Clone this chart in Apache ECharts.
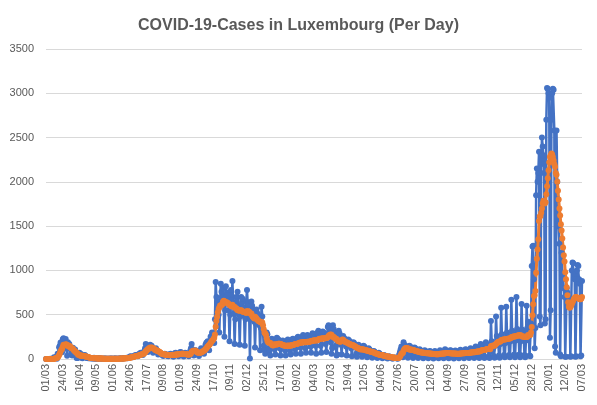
<!DOCTYPE html>
<html>
<head>
<meta charset="utf-8">
<script src="https://cdn.jsdelivr.net/npm/echarts@6/dist/echarts.min.js"></script>
<style>
  html, body { margin: 0; padding: 0; background: #fff; }
  #chart { width: 597px; height: 405px; }
</style>
</head>
<body>
<div id="chart"></div>
<script>
// first reported day and number of days shown
const startDate = [2020, 3, 1];
const dayCount = 737;

// daily new cases, one row per week (Sun..Sat)
const dailyCases = [
  0,0,1,0,1,0,2,
  1,0,2,3,19,12,13,
  26,4,59,63,132,149,186,
  128,77,224,234,120,152,226,
  119,38,190,141,168,125,117,
  75,39,127,64,81,108,47,
  11,11,15,66,71,36,57,
  13,8,20,36,46,40,16,
  12,12,8,11,15,7,10,
  8,7,6,13,6,4,10,
  4,5,7,10,3,5,4,
  2,4,3,5,3,6,2,
  3,4,2,3,5,3,7,
  2,1,5,3,7,6,4,
  2,3,5,4,8,6,5,
  4,7,10,12,8,11,14,
  9,14,18,25,30,22,28,
  20,25,33,40,46,35,41,
  30,42,60,55,71,62,58,
  45,65,90,120,170,105,140,
  80,110,145,160,130,150,120,
  70,90,110,95,120,100,80,
  50,60,70,55,65,50,45,
  35,50,60,45,55,40,38,
  30,45,55,60,50,48,40,
  25,50,65,70,60,55,42,
  30,60,75,80,65,55,50,
  28,50,70,65,60,50,45,
  30,60,90,120,170,110,80,
  40,70,100,95,85,70,60,
  35,70,100,120,110,105,90,
  60,120,160,180,190,200,150,
  100,190,250,260,300,250,240,
  180,450,870,700,650,600,500,
  300,600,850,760,700,800,600,
  250,550,820,700,750,720,550,
  200,500,780,660,880,600,520,
  170,450,700,650,760,600,500,
  160,480,700,620,680,580,500,
  150,450,650,780,620,600,480,
  5,450,650,600,560,520,420,
  130,400,560,520,500,480,380,
  100,350,590,480,300,150,100,
  60,250,300,280,200,120,90,
  40,200,230,220,180,190,110,
  50,180,240,230,220,180,120,
  40,160,200,210,190,170,100,
  40,150,200,220,200,160,90,
  50,180,220,230,210,190,110,
  60,190,240,250,230,210,130,
  60,180,250,270,240,200,120,
  70,200,270,260,230,220,140,
  70,230,290,280,240,220,150,
  60,240,300,320,280,250,150,
  70,250,310,300,290,260,170,
  80,280,360,380,350,300,190,
  60,120,380,340,300,260,150,
  40,50,280,320,290,250,160,
  50,200,260,240,230,200,140,
  40,170,220,210,200,170,120,
  30,150,190,180,160,140,60,
  25,120,160,150,130,110,70,
  25,110,150,140,120,90,50,
  20,90,120,110,100,80,40,
  15,60,90,85,70,60,30,
  10,40,70,60,55,45,20,
  8,30,45,40,35,30,15,
  5,20,30,25,22,18,10,
  3,12,18,15,14,12,6,
  3,15,50,80,110,140,60,
  20,190,160,150,140,130,60,
  15,120,150,140,130,120,50,
  10,100,130,120,110,90,40,
  10,80,110,100,90,80,35,
  8,70,100,90,80,70,30,
  8,60,90,85,75,60,25,
  5,50,90,80,70,60,25,
  8,60,100,90,80,65,25,
  8,70,110,100,85,70,30,
  8,60,100,95,80,65,25,
  7,55,95,90,75,60,25,
  8,60,105,95,85,70,30,
  8,65,110,105,90,75,30,
  10,70,120,110,100,80,35,
  10,80,140,130,110,90,35,
  12,100,170,150,130,110,40,
  12,110,190,170,150,120,35,
  10,80,430,200,160,140,35,
  15,150,480,260,220,190,40,
  15,170,580,280,240,210,45,
  20,180,590,300,260,220,45,
  20,200,670,320,280,240,50,
  20,210,700,340,300,260,50,
  20,200,620,330,290,250,45,
  20,210,600,350,420,250,40,
  30,400,1050,1270,1280,900,120,
  350,1850,2150,2000,2100,2340,480,
  380,2100,2500,2400,2300,2200,400,
  450,2700,3060,3050,3000,2950,240,
  550,2700,3000,3050,3040,2580,140,
  70,2580,2000,1800,1500,1300,50,
  30,1200,950,900,800,700,25,
  25,800,750,700,650,600,25,
  30,1000,1090,1080,950,900,25,
  30,1000,1060,1050,900,850,30,
  40,880
];

// 7 day average, same layout
const sevenDayAvg = [
  0,0,0,0,0,0,1,
  1,1,1,1,4,5,7,
  11,11,19,28,44,63,88,
  103,113,136,160,158,158,166,
  165,159,154,141,148,144,128,
  122,122,113,102,90,88,77,
  68,64,48,48,47,37,38,
  38,37,38,34,30,31,25,
  25,25,23,20,15,11,11,
  10,10,9,9,8,8,8,
  7,7,7,7,6,6,5,
  5,5,4,4,4,4,4,
  4,4,4,3,4,4,4,
  4,4,4,4,4,4,4,
  4,4,4,4,5,5,5,
  5,5,6,7,8,9,9,
  10,11,12,14,17,18,21,
  22,24,26,28,31,33,34,
  36,38,42,44,47,50,54,
  56,60,64,73,87,93,105,
  110,116,124,130,124,130,128,
  120,117,112,102,100,93,95,
  88,84,78,72,64,60,56,
  55,53,51,50,49,48,46,
  45,44,43,45,44,45,47,
  46,46,48,50,51,52,52,
  53,54,56,57,58,58,59,
  58,57,56,54,53,52,51,
  51,52,55,63,79,87,92,
  93,94,95,91,79,74,71,
  70,70,70,74,78,83,90,
  94,101,110,118,129,142,151,
  157,167,180,191,206,213,227,
  240,277,365,428,478,528,565,
  582,603,600,609,616,645,659,
  652,645,641,632,639,628,621,
  612,605,600,594,613,596,591,
  587,580,568,567,549,549,547,
  546,550,550,546,535,532,531,
  530,526,519,542,534,537,534,
  513,513,513,487,478,467,458,
  476,469,456,445,436,430,424,
  420,413,417,411,382,335,295,
  289,275,233,204,190,186,184,
  181,174,164,155,152,162,165,
  166,163,164,166,172,171,172,
  170,167,161,158,154,153,150,
  150,149,149,150,152,150,149,
  150,155,158,159,160,164,167,
  168,170,173,176,179,182,187,
  187,185,187,190,191,190,189,
  190,193,196,194,193,196,199,
  199,203,206,209,210,210,211,
  210,211,213,219,225,229,229,
  230,231,233,231,232,233,236,
  237,241,248,259,267,273,276,
  273,250,253,247,240,234,229,
  226,216,202,199,197,196,199,
  200,221,218,207,199,192,189,
  187,183,177,173,169,165,161,
  160,157,153,149,143,139,130,
  129,125,120,116,112,107,109,
  109,107,106,104,102,99,97,
  97,94,91,87,84,83,81,
  80,76,73,70,66,63,59,
  58,55,52,48,46,44,43,
  43,41,38,35,32,30,29,
  28,27,25,23,21,19,19,
  18,17,15,14,13,12,11,
  11,12,17,26,40,58,65,
  68,93,109,119,123,122,121,
  120,110,108,107,106,104,104,
  103,100,97,94,91,87,86,
  86,83,80,77,74,73,72,
  71,70,69,67,66,65,64,
  64,63,62,61,60,58,58,
  57,56,56,55,55,55,54,
  55,56,58,59,60,61,61,
  61,63,64,66,67,68,68,
  68,66,65,64,63,62,62,
  62,61,61,60,60,59,58,
  58,59,61,62,63,65,65,
  65,66,67,68,69,69,69,
  69,70,72,73,74,75,75,
  75,77,80,83,84,85,85,
  85,88,92,95,98,101,102,
  102,104,107,109,112,113,112,
  112,109,144,148,149,152,151,
  152,162,169,178,187,194,194,
  194,197,211,214,217,220,220,
  221,222,224,226,229,230,231,
  231,234,245,248,251,254,254,
  254,256,260,263,266,269,269,
  269,268,256,255,253,251,251,
  251,252,249,252,271,271,270,
  271,298,362,494,617,710,721,
  767,974,1131,1235,1352,1558,1610,
  1614,1650,1700,1757,1786,1766,1755,
  1770,1860,1950,2040,2130,2220,2280,
  2300,2320,2310,2280,2240,2200,2170,
  2100,2080,2000,1900,1800,1700,1620,
  1520,1450,1360,1260,1170,1100,980,
  900,810,720,640,590,580,585,
  600,620,640,660,680,690,700,
  700,695,690,685,680,675,675,
  680,700
];

// dd/mm labels for every day
const days = [];
for (let i = 0; i < dayCount; i++) {
  let d = new Date(Date.UTC(startDate[0], startDate[1] - 1, startDate[2] + i));
  let dd = String(d.getUTCDate()).padStart(2, '0');
  let mm = String(d.getUTCMonth() + 1).padStart(2, '0');
  days.push(dd + '/' + mm);
}

const chart = echarts.init(document.getElementById('chart'));
const textColor = '#595959';
const font = '"Liberation Sans", Arial, sans-serif';

const option = {
  animation: false,
  title: {
    text: 'COVID-19-Cases in Luxembourg (Per Day)',
    left: 'center',
    top: 13,
    textStyle: { fontFamily: font, fontSize: 16, fontWeight: 'bold', color: textColor }
  },
  grid: { left: 46, right: 15, top: 49, bottom: 46 },
  xAxis: {
    type: 'category',
    data: days,
    boundaryGap: false,
    axisLine: { lineStyle: { color: '#d9d9d9', width: 1 } },
    axisTick: { show: false },
    axisLabel: {
      interval: 22,
      rotate: 90,
      margin: 5,
      fontFamily: font,
      fontSize: 11,
      color: textColor
    }
  },
  yAxis: {
    type: 'value',
    min: 0,
    max: 3500,
    interval: 500,
    axisLine: { show: false },
    axisTick: { show: false },
    splitLine: { lineStyle: { color: '#d9d9d9', width: 1 } },
    axisLabel: {
      margin: 12,
      fontFamily: font,
      fontSize: 11,
      color: textColor,
      formatter: (v) => String(v)
    }
  },
  series: [
    {
      name: 'Cases',
      type: 'line',
      data: dailyCases,
      symbol: 'circle',
      symbolSize: 6,
      showAllSymbol: true,
      lineStyle: { color: '#4472c4', width: 2.5 },
      itemStyle: { color: '#4472c4' }
    },
    {
      name: '7 day average',
      type: 'line',
      data: sevenDayAvg,
      symbol: 'circle',
      symbolSize: 6,
      showAllSymbol: true,
      lineStyle: { color: '#ed7d31', width: 3 },
      itemStyle: { color: '#ed7d31' }
    }
  ]
};

chart.setOption(option);
</script>
</body>
</html>
